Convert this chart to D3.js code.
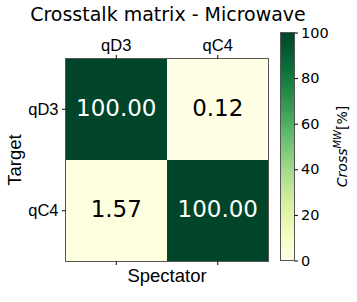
<!DOCTYPE html>
<html>
<head>
<meta charset="utf-8">
<script src="https://cdnjs.cloudflare.com/ajax/libs/d3/7.9.0/d3.min.js"></script>
<style>
  body { margin: 0; background: #fff; }
  text { font-family: "DejaVu Sans", sans-serif; fill: #000; }
</style>
</head>
<body>
<div id="chart"></div>
<script>
// dados da matriz de crosstalk
const spectators = ["qD3", "qC4"];
const targets = ["qD3", "qC4"];
const valores = [
  [100.00, 0.12],
  [1.57, 100.00],
];
const ticksBarra = [0, 20, 40, 60, 80, 100];

const W = 357, H = 302;
const ARIAL = "'Liberation Sans', Arial, sans-serif";
const svg = d3.select("#chart").append("svg")
  .attr("width", W).attr("height", H);

// área do heatmap
const x0 = 65.5, y0 = 58.5, lado = 203;
const x = d3.scaleBand().domain(spectators).range([x0, x0 + lado]);
const y = d3.scaleBand().domain(targets).range([y0, y0 + lado]);
const cor = d3.scaleSequential(d3.interpolateYlGn).domain([0, 100]);

const cells = [];
targets.forEach((t, i) => spectators.forEach((s, j) => cells.push({ t, s, v: valores[i][j] })));

svg.append("g").selectAll("rect").data(cells).join("rect")
  .attr("x", d => x(d.s)).attr("y", d => y(d.t))
  .attr("width", x.bandwidth()).attr("height", y.bandwidth())
  .attr("fill", d => cor(d.v));

svg.append("g").selectAll("text").data(cells).join("text")
  .attr("x", d => x(d.s) + x.bandwidth() / 2)
  .attr("y", d => y(d.t) + y.bandwidth() / 2 + 6.5)
  .attr("text-anchor", "middle")
  .style("font-size", "23px")
  .style("fill", d => d.v > 50 ? "#fff" : "#000")
  .text(d => d.v.toFixed(2));

svg.append("rect").attr("x", x0).attr("y", y0).attr("width", lado).attr("height", lado)
  .attr("fill", "none").attr("stroke", "#555").attr("stroke-width", 1);

// eixos
const eixoTopo = svg.append("g").attr("transform", `translate(0,${y0})`)
  .call(d3.axisTop(x).tickSize(3.5).tickPadding(4.5));
const eixoBase = svg.append("g").attr("transform", `translate(0,${y0 + lado})`)
  .call(d3.axisBottom(x).tickSize(3.5).tickFormat(""));
const eixoEsq = svg.append("g").attr("transform", `translate(${x0},0)`)
  .call(d3.axisLeft(y).tickSize(3.5).tickPadding(3.5));
[eixoTopo, eixoBase, eixoEsq].forEach(g => {
  g.select(".domain").remove();
  g.selectAll("line").attr("stroke", "#000");
  g.selectAll("text").style("font-size", "16.5px").style("font-family", ARIAL);
});

svg.append("text").attr("x", 168).attr("y", 21).attr("text-anchor", "middle")
  .style("font-size", "19px").text("Crosstalk matrix - Microwave");
svg.append("text").attr("x", x0 + lado / 2).attr("y", 281.5).attr("text-anchor", "middle")
  .style("font-size", "18.5px").style("font-family", ARIAL).text("Spectator");
svg.append("text").attr("transform", `translate(21,${y0 + lado / 2}) rotate(-90)`)
  .attr("text-anchor", "middle").style("font-size", "18.5px").style("font-family", ARIAL)
  .text("Target");

// barra de cores
const bx = 280.5, by0 = 32.5, by1 = 260.5, bw = 14;
const yb = d3.scaleLinear().domain([0, 100]).range([by1, by0]);
const grad = svg.append("defs").append("linearGradient").attr("id", "grad")
  .attr("x1", 0).attr("y1", 1).attr("x2", 0).attr("y2", 0);
d3.range(0, 1.0001, 0.05).forEach(t => grad.append("stop")
  .attr("offset", t).attr("stop-color", cor(t * 100)));
svg.append("rect").attr("x", bx).attr("y", by0).attr("width", bw).attr("height", by1 - by0)
  .attr("fill", "url(#grad)").attr("stroke", "#555").attr("stroke-width", 1);
const eixoBarra = svg.append("g").attr("transform", `translate(${bx + bw},0)`)
  .call(d3.axisRight(yb).tickValues(ticksBarra).tickSize(3.5).tickPadding(3));
eixoBarra.select(".domain").remove();
eixoBarra.selectAll("line").attr("stroke", "#000");
eixoBarra.selectAll("text").style("font-size", "14.5px").style("font-family", "DejaVu Sans, sans-serif");

const rotulo = svg.append("text").attr("transform", `translate(347,${(by0 + by1) / 2}) rotate(-90)`)
  .attr("text-anchor", "middle").style("font-size", "14px");
rotulo.append("tspan").style("font-style", "italic").text("Cross");
rotulo.append("tspan").style("font-style", "italic").style("font-size", "10px")
  .attr("dy", -6).text("MW");
rotulo.append("tspan").attr("dy", 6).text("[%]");
</script>
</body>
</html>
